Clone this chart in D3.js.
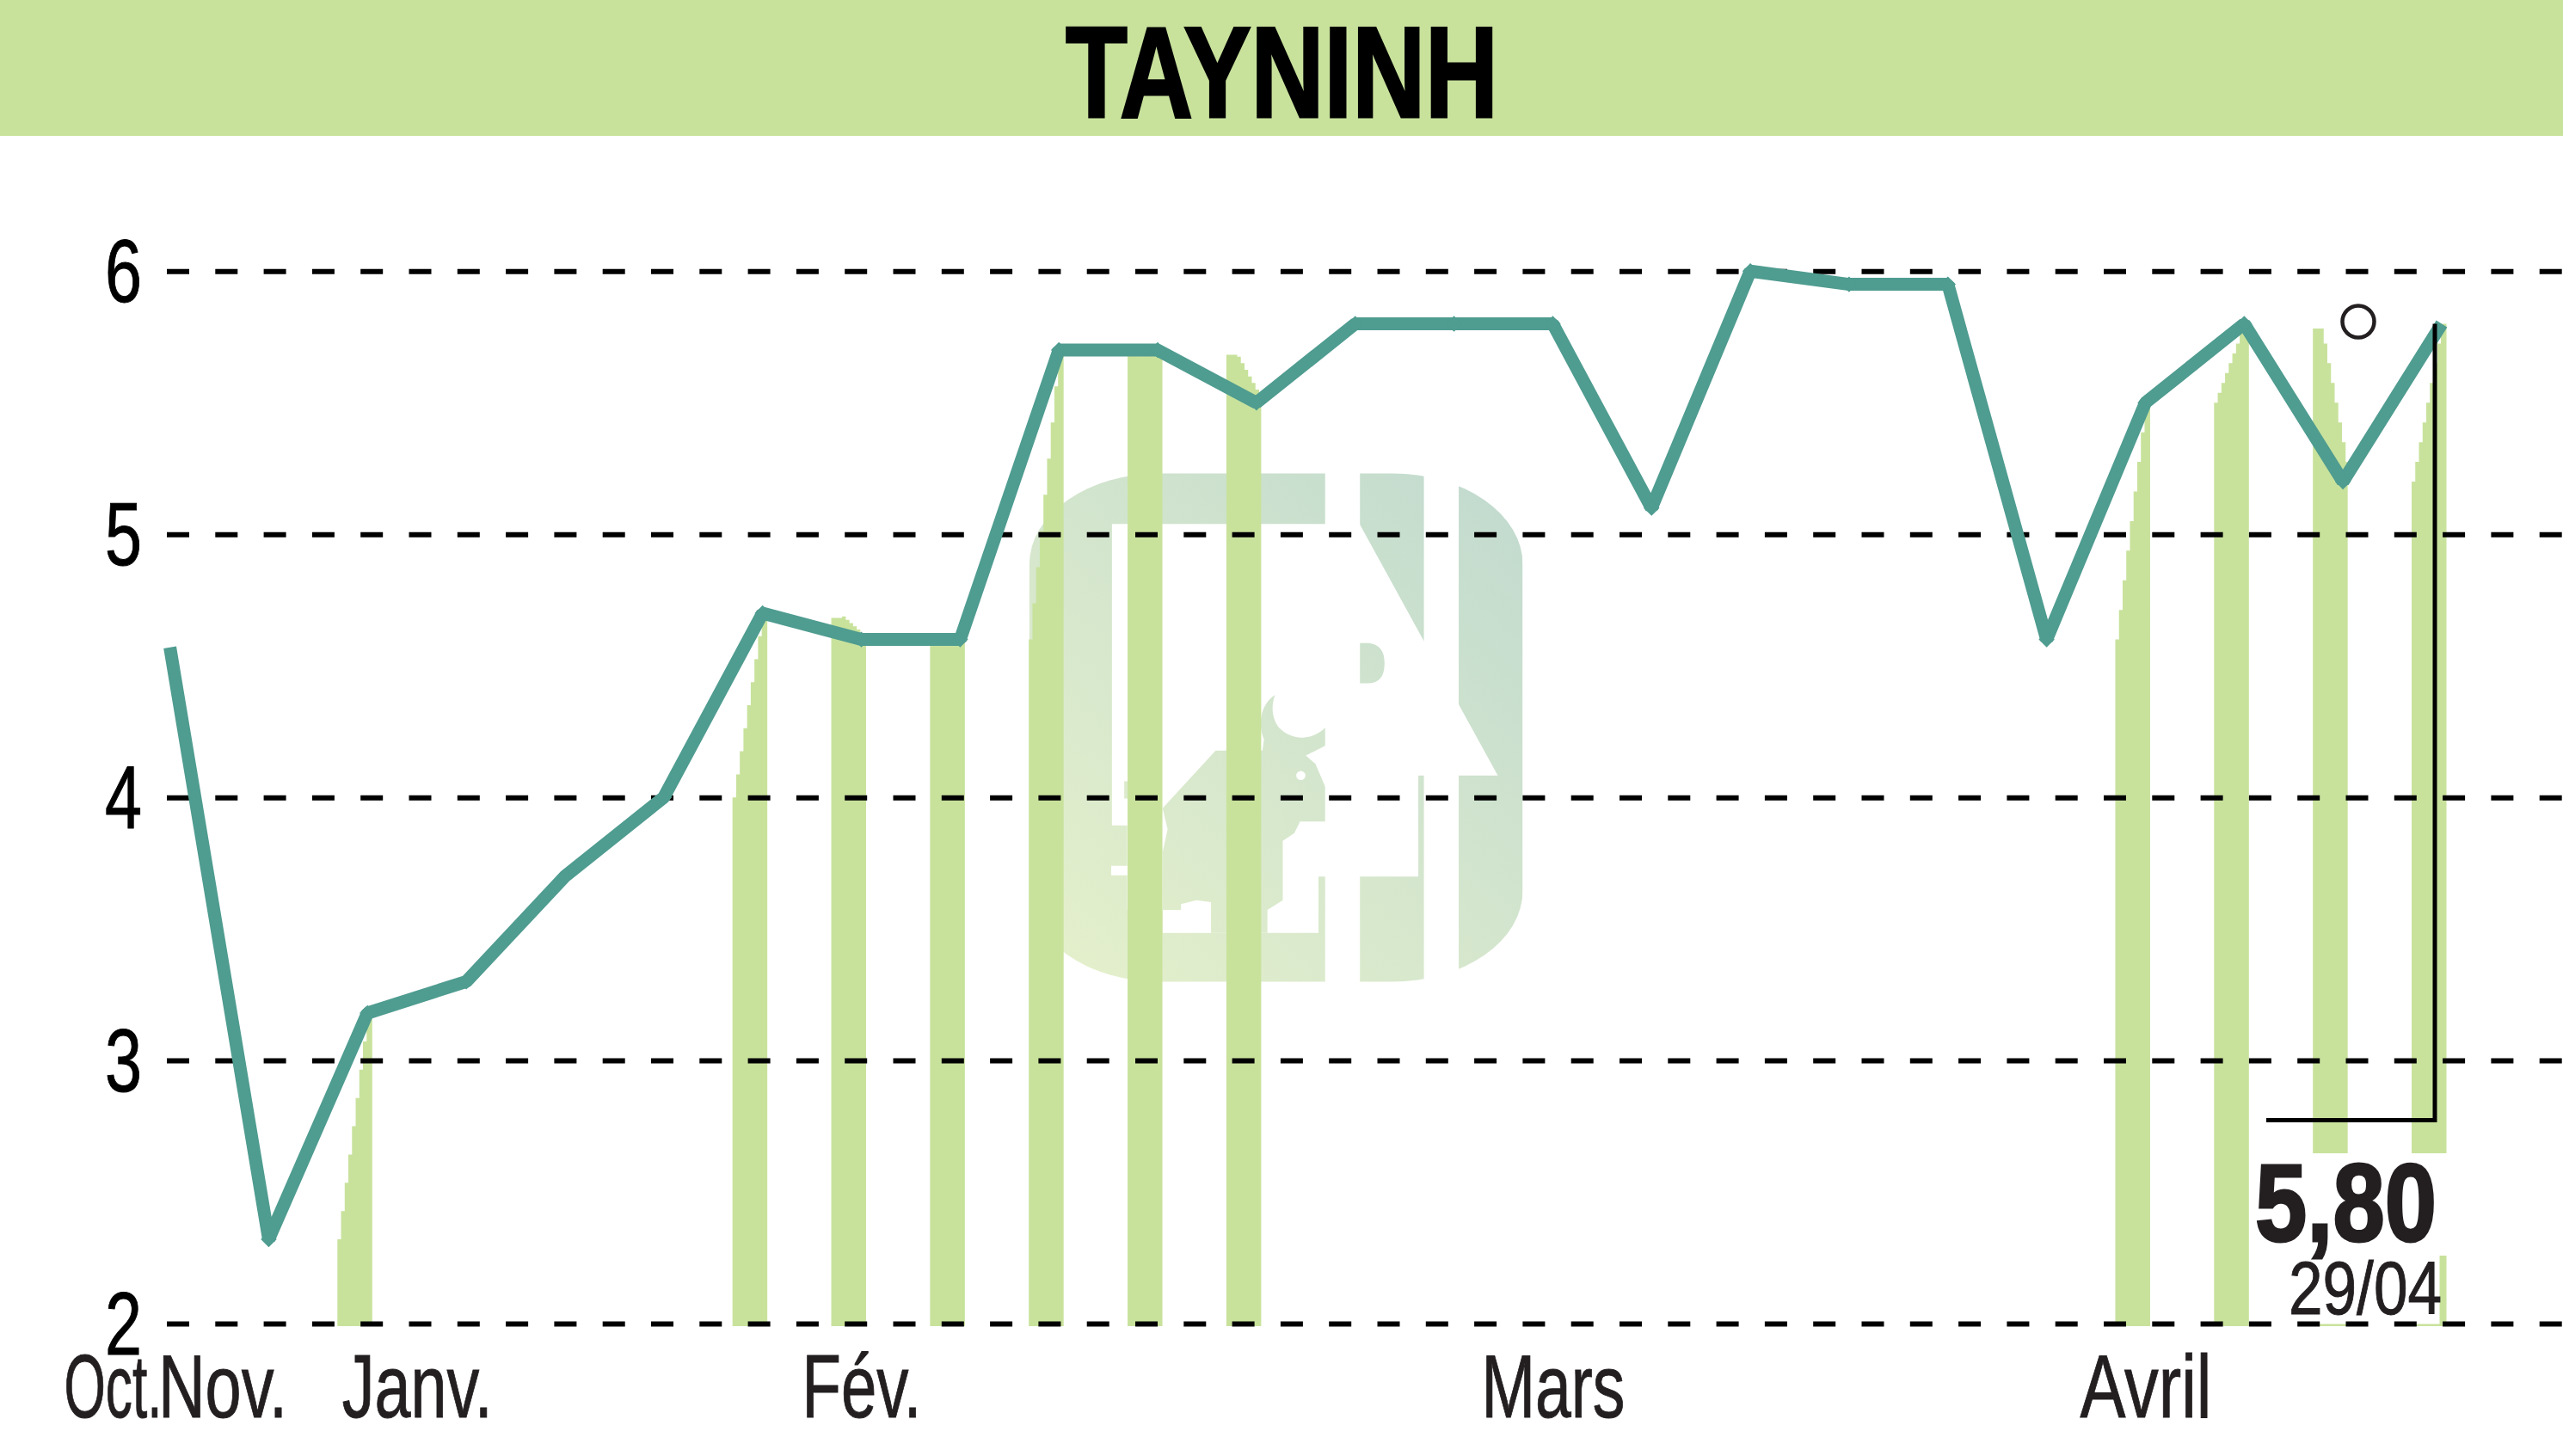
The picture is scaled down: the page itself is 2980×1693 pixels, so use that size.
<!DOCTYPE html>
<html><head><meta charset="utf-8">
<script src="https://cdn.jsdelivr.net/npm/d3@7"></script>
<style>
html,body{margin:0;padding:0;background:#fff;overflow:hidden}
text{font-family:"Liberation Sans Narrow","Liberation Sans",sans-serif;fill:#231f20}
</style></head><body>
<script>
const titleText = "TAYNINH";
const closes = [4.57,2.32,3.18,3.3,3.7,4.0,4.7,4.6,4.6,5.7,5.7,5.5,5.8,5.8,5.8,5.1,6.0,5.95,5.95,4.6,5.5,5.8,5.2,5.8];
const greenDays = [2,6,7,8,9,10,11,20,21,22,23];
const yTicks = [2,3,4,5,6];
const monthLabels = ["Oct.","Nov.","Janv.","Fév.","Mars","Avril"];
const monthPositions = [-0.58,0.53,2.5,7,14,20];
const monthWidths = [114,150,175,139,167,153];
const lastValue = "5,80";
const lastDate = "29/04";

const W = 2980, H = 1693;
const GREEN = "#c8e29c", TEAL = "#4f9c90";
const svg = d3.select("body").append("svg").attr("width",W).attr("height",H).style("display","block");
const x = d3.scaleLinear().domain([0,23]).range([197.6,2839]);
const y = d3.scaleLinear().domain([2,6]).range([1539,315.3]);

// header
svg.append("rect").attr("width",W).attr("height",158).attr("fill",GREEN);
svg.append("text").text(titleText).attr("x",1239).attr("y",136)
  .attr("font-size",150).attr("font-weight",700)
  .attr("textLength",503).attr("lengthAdjust","spacingAndGlyphs")
  .style("fill","#000").style("stroke","#000").style("stroke-width",3);

// watermark logo (drawn in its own local units)
const defs = svg.append("defs");
const grad = defs.append("linearGradient").attr("id","logoGrad").attr("gradientUnits","userSpaceOnUse")
  .attr("x1",105).attr("y1",1437).attr("x2",1390).attr("y2",113);
grad.append("stop").attr("offset",0).attr("stop-color","#e6f1cb");
grad.append("stop").attr("offset",1).attr("stop-color","#c1dacf");
const logo = svg.append("g").attr("transform","translate(1150,500) scale(0.4464)");
logo.append("rect").attr("x",105).attr("y",113).attr("width",1285).attr("height",1324)
  .attr("rx",340).attr("ry",237).attr("fill","url(#logoGrad)");
logo.append("path").attr("fill","#fff").attr("d",
 "M320,245 L965,245 L1325,900 L1118,900 L1118,1163 L858,1163 L858,1310 L452,1310 L452,1250 L360,1250 L360,1160 L318,1160 L318,1135 L360,1135 L360,1030 L320,1030 Z");
logo.append("path").attr("fill","url(#logoGrad)").attr("d",
 "M745,690 C705,715 700,770 716,806 L712,835 L590,835 L452,985 L465,1040 L452,1100 L452,1250 L500,1250 L500,1235 L540,1225 L578,1230 L578,1310 L725,1310 L725,1250 L765,1225 L765,1070 L795,1050 L810,1020 L876,1020 L876,930 L850,870 L825,848 L876,822 L876,775 C840,810 790,810 755,775 C735,750 735,715 745,690 Z");
logo.append("rect").attr("x",352).attr("y",915).attr("width",10).attr("height",45).attr("fill","url(#logoGrad)");
logo.append("circle").attr("cx",812).attr("cy",900).attr("r",12).attr("fill","#fff");
logo.append("path").attr("fill","url(#logoGrad)").attr("d","M965,555 L990,555 Q1030,560 1030,608 Q1030,660 985,660 L965,660 Z");

// day stripes: a stepped column under each session of the line
const stripeLeft = 35, stripeRight = 5.5, stepW = 4.25, steps = 8;
function stripeTop(i){
  const prev = i>0 ? closes[i-1] : closes[0], cur = closes[i];
  const l = x(i)-stripeLeft, r = x(i)+stripeRight;
  const falling = cur<prev;
  const delay = falling ? 12.6 : stepW;
  const pts = d3.range(0,steps+1).map(k=>({px:l+(k===0?0:delay+(k-1)*stepW),v:prev+(cur-prev)*k/steps,drop:(falling&&k===0)?5.5:0})).filter(p=>p.px<r);
  pts.push({px:r,v:pts[pts.length-1].v,drop:0});
  return pts;
}
const stripeArea = d3.area().x(d=>d.px).y0(y(2)+3).y1(d=>y(d.v)+d.drop).curve(d3.curveStepAfter);
svg.append("g").selectAll("path").data(d3.range(0,closes.length)).join("path")
  .attr("d",i=>stripeArea(stripeTop(i)))
  .attr("fill",i=>greenDays.includes(i)?GREEN:"#fff");

// white box behind the last value
const box = svg.append("g").attr("fill","#fff");
box.append("rect").attr("x",2615).attr("y",1341).attr("width",235).attr("height",119);
box.append("rect").attr("x",2615).attr("y",1460).attr("width",221.5).attr("height",79.5);

// y axis with dashed grid
const gy = svg.append("g").attr("transform","translate(194,0)")
  .call(d3.axisLeft(y).tickValues(yTicks).tickSize(-(W-194)).tickPadding(29).tickFormat(d3.format("d")));
gy.select(".domain").remove();
gy.selectAll(".tick line").attr("stroke","#000").attr("stroke-width",6).attr("stroke-dasharray","26 30.3");
gy.selectAll(".tick text").attr("font-size",104).attr("dy",35.5).style("fill","#000").style("stroke","#000").style("stroke-width",1)
  .attr("textLength",43).attr("lengthAdjust","spacingAndGlyphs");

// x axis labels
const gx = svg.append("g").attr("transform","translate(0,1648)")
  .call(d3.axisBottom(x).tickValues(monthPositions).tickSize(0).tickPadding(0).tickFormat((d,i)=>monthLabels[i]));
gx.select(".domain").remove();
gx.selectAll(".tick text").attr("font-size",104).attr("y",0).attr("dy",0).style("stroke","#231f20").style("stroke-width",1)
  .attr("textLength",(d,i)=>monthWidths[i]).attr("lengthAdjust","spacingAndGlyphs");

// price line
svg.append("path").datum(closes)
  .attr("d",d3.line().x((d,i)=>x(i)).y(d=>y(d)))
  .attr("fill","none").attr("stroke",TEAL).attr("stroke-width",15).attr("stroke-linejoin","bevel");
svg.append("g").selectAll("path").data(closes.slice(1,-1)).join("path")
  .attr("d",d3.symbol().type(d3.symbolSquare).size(170))
  .attr("transform",(d,i)=>`translate(${x(i+1)},${y(d)}) rotate(45)`)
  .attr("fill",TEAL);

// callout
const last = closes[closes.length-1];
svg.append("path").attr("d",d3.line()([[2831,y(last)],[2831,1302.5],[2635,1302.5]]))
  .attr("fill","none").attr("stroke","#000").attr("stroke-width",5);
svg.append("circle").attr("cx",2742).attr("cy",374).attr("r",18.5).attr("fill","none").attr("stroke","#231f20").attr("stroke-width",4.5);
svg.append("text").text(lastValue).attr("x",2622).attr("y",1443).attr("font-size",128).attr("font-weight",700)
  .attr("textLength",211).attr("lengthAdjust","spacingAndGlyphs").style("stroke","#231f20").style("stroke-width",3);
svg.append("text").text(lastDate).attr("x",2661).attr("y",1528).attr("font-size",88)
  .attr("textLength",178).attr("lengthAdjust","spacingAndGlyphs").style("stroke","#231f20").style("stroke-width",1);
</script>
</body></html>
